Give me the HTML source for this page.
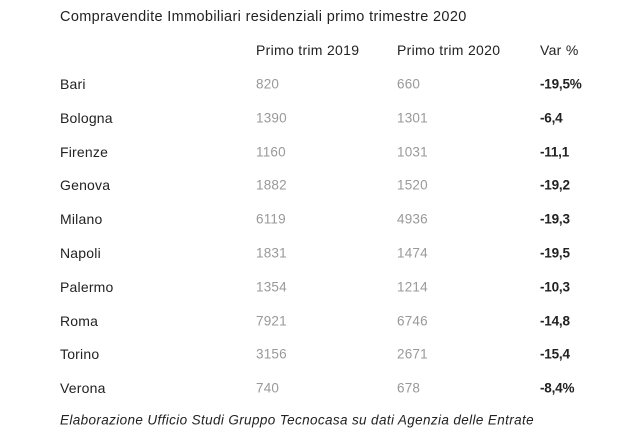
<!DOCTYPE html>
<html><head><meta charset="utf-8"><style>
body{margin:0;width:640px;height:442px;background:#fff;font-family:"Liberation Sans",sans-serif;position:relative;overflow:hidden}
.t{position:absolute;white-space:nowrap;line-height:1;transform:translateY(-50%)}
.title{font-size:14.5px;color:#222;left:60px;top:17px;letter-spacing:0.35px}
.h{font-size:14px;color:#222;top:50px;letter-spacing:0.3px}
.n{font-size:14px;color:#222;left:60px;letter-spacing:0.2px}
.v{font-size:13.5px;color:#999;letter-spacing:0.2px}
.p{font-size:13.5px;color:#222;left:540px;font-weight:bold;letter-spacing:-0.2px}
.foot{font-size:13.5px;font-style:italic;color:#222;left:60px;top:420px;letter-spacing:0.37px}
</style></head><body>
<div class="t title">Compravendite Immobiliari residenziali primo trimestre 2020</div>
<div class="t h" style="left:256px">Primo trim 2019</div>
<div class="t h" style="left:397px">Primo trim 2020</div>
<div class="t h" style="left:540px">Var %</div>
<div id="rows"></div>
<div class="t foot">Elaborazione Ufficio Studi Gruppo Tecnocasa su dati Agenzia delle Entrate</div>
<script>
const cities=["Bari","Bologna","Firenze","Genova","Milano","Napoli","Palermo","Roma","Torino","Verona"];
const v2019=[820,1390,1160,1882,6119,1831,1354,7921,3156,740];
const v2020=[660,1301,1031,1520,4936,1474,1214,6746,2671,678];
const varPct=["-19,5%","-6,4","-11,1","-19,2","-19,3","-19,5","-10,3","-14,8","-15,4","-8,4%"];
const rows=document.getElementById('rows');
cities.forEach((c,i)=>{
  const y=84+i*33.8;
  const cells=[[c,'n',60,'city-name'],[v2019[i],'v',256,'value-2019'],[v2020[i],'v',397,'value-2020'],[varPct[i],'p',540,'var-pct']];
  cells.forEach(([txt,cls,x,nm])=>{
    const d=document.createElement('div');
    d.className='t '+cls;
    d.style.left=x+'px';d.style.top=y+'px';
    d.textContent=txt;
    
    
    rows.appendChild(d);
  });
});
</script>
</body></html>
